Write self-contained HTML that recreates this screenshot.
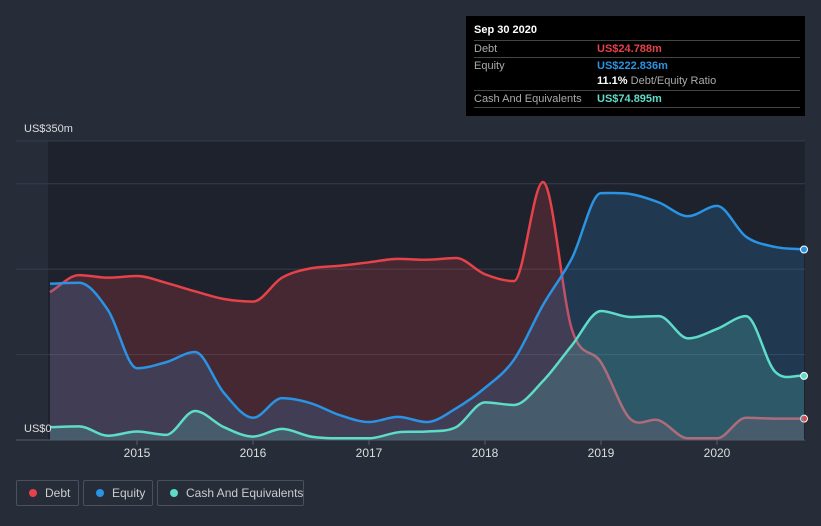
<!DOCTYPE html>
<html style="overflow:hidden;width:821px;height:526px"><head><meta charset="utf-8">
<style>
body{margin:0;width:821px;height:526px;background:#262d39;font-family:"Liberation Sans",sans-serif;overflow:hidden;position:relative}
svg{position:absolute;left:0;top:0;display:block}
.tip{position:absolute;left:466px;top:16px;width:339px;height:100px;background:#000;color:#fff;font-size:11px}
.tip .r{position:absolute;left:8px;right:5px;border-top:1px solid #444;height:16px;line-height:16px;color:#aaa}
.tip .v{position:absolute;left:123px;font-weight:bold}
.leg{position:absolute;top:480px;height:26px;border:1px solid #4a505c;border-radius:2px;color:#ccc;font-size:12px;line-height:24px;box-sizing:border-box;white-space:nowrap}
.leg span{white-space:nowrap}
.leg i{position:absolute;left:12px;top:8px;width:8px;height:8px;border-radius:50%}
</style></head><body>
<svg id="c" width="821" height="526"></svg>
<div class="tip">
<div style="position:absolute;left:8px;top:8px;font-weight:bold">Sep 30 2020</div>
<div class="r" style="top:24px">Debt<span class="v" style="color:#e5424a">US$24.788m</span></div>
<div class="r" style="top:41px">Equity<span class="v" style="color:#2b93e3">US$222.836m</span></div>
<div class="r" style="top:57px;border:none"><span class="v" style="color:#fff">11.1% <span style="color:#aaa;font-weight:normal">Debt/Equity Ratio</span></span></div>
<div class="r" style="top:74px;border-bottom:1px solid #444">Cash And Equivalents<span class="v" style="color:#5fdcc8">US$74.895m</span></div>
</div>
<div class="leg" style="left:16px;width:63px"><i style="background:#e5424a"></i><span style="position:absolute;left:28px">Debt</span></div>
<div class="leg" style="left:83px;width:70px"><i style="background:#2b93e3"></i><span style="position:absolute;left:28px">Equity</span></div>
<div class="leg" style="left:157px;width:147px"><i style="background:#5fdcc8"></i><span style="position:absolute;left:28px">Cash And Equivalents</span></div>
<script>
const startYear=2014.25, step=0.25;
const debt=[173,193,190,192,184,174,165,162,190,201,204,208,212,211,213,194,186,302,129,91,25,23,2,2,26,25,25];
const equity=[183,184,152,84,91,103,55,26,49,43,29,21,27,21,37,61,94,158,213,289,288,278,262,274,238,226,223];
const cash=[15,16,5,10,6,34,15,4,13,4,2,2,9,10,15,44,41,69,111,151,144,145,119,130,145,80,75];
const yTicks=[0,100,200,300,350];
const xYears=[2015,2016,2017,2018,2019,2020];
const X=t=>137+(t-2015)*116, Y=v=>440-v*0.8543;
const svg=document.getElementById('c'),NS='http://www.w3.org/2000/svg';
function mk(tag,a,nm){const e=document.createElementNS(NS,tag);for(const k in a)e.setAttribute(k,a[k]);


svg.appendChild(e);return e;}
mk('rect',{x:48,y:141,width:757,height:299,fill:'#1d222c'},'plot-area');
yTicks.forEach(v=>{if(v>0)mk('line',{x1:16,x2:805,y1:Y(v),y2:Y(v),stroke:'#363d4a'},'grid-line');});
function path(vals){const p=vals.map((v,i)=>[X(startYear+i*step),Y(v)]);const n=p.length;const d=[],m=[];
for(let i=0;i<n-1;i++)d.push((p[i+1][1]-p[i][1])/(p[i+1][0]-p[i][0]));
for(let i=0;i<n;i++){if(i==0)m.push(d[0]);else if(i==n-1)m.push(d[n-2]);else m.push(d[i-1]*d[i]<=0?0:(d[i-1]+d[i])/2);}
let s='M'+p[0][0]+','+p[0][1];for(let i=0;i<n-1;i++){const h=(p[i+1][0]-p[i][0])/3;
s+=`C${p[i][0]+h},${p[i][1]+m[i]*h} ${p[i+1][0]-h},${p[i+1][1]-m[i+1]*h} ${p[i+1][0]},${p[i+1][1]}`;}return [s,p];}
function series(vals,col,fill,nm){const [s,p]=path(vals);const l=p[p.length-1];
mk('path',{d:s+`L${l[0]},440L${p[0][0]},440Z`,fill:fill},nm+'-area');
mk('path',{d:s,fill:'none',stroke:col,'stroke-width':2.5},nm+'-line');
mk('circle',{cx:l[0],cy:l[1],r:3.5,fill:col,stroke:'#fff','stroke-width':1},nm+'-end-point');}
series(debt,'#e5424a','rgba(229,66,74,0.2)','debt');
series(equity,'#2b93e3','rgba(43,147,227,0.2)','equity');
series(cash,'#5fdcc8','rgba(95,220,200,0.2)','cash');
mk('line',{x1:16,x2:805,y1:440,y2:440,stroke:'#555c68'},'x-axis');
xYears.forEach(y=>{mk('line',{x1:X(y),x2:X(y),y1:440,y2:445,stroke:'#555c68'},'x-tick');
const t=mk('text',{x:X(y),y:457,fill:'#ddd','font-size':12,'text-anchor':'middle'},'x-tick-label');t.textContent=y;});
let t=mk('text',{x:24,y:132,fill:'#ddd','font-size':11},'y-label-max');t.textContent='US$350m';
t=mk('text',{x:24,y:432,fill:'#ddd','font-size':11},'y-label-zero');t.textContent='US$0';
</script>
</body></html>
